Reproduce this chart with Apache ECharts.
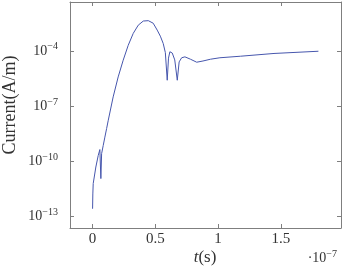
<!DOCTYPE html>
<html>
<head>
<meta charset="utf-8">
<script src="https://cdn.jsdelivr.net/npm/echarts@6/dist/echarts.min.js"></script>
<style>
  html, body { margin: 0; padding: 0; background: #fff; }
  #chart { width: 348px; height: 271px; }
</style>
</head>
<body>
<div id="chart"></div>
<script>
// time in units of 1e-7 s
const timeValues = [0, 0.002, 0.005, 0.026, 0.045, 0.058, 0.066, 0.072, 0.085, 0.098, 0.112, 0.125, 0.164,
  0.204, 0.244, 0.284, 0.324, 0.364, 0.404, 0.444, 0.483, 0.515, 0.54, 0.563, 0.58, 0.595, 0.605, 0.616,
  0.635, 0.655, 0.675, 0.69, 0.71, 0.736, 0.78, 0.83, 0.88, 0.94, 1.015, 1.18, 1.446, 1.8]
// current in A/m
const currentValues = [2.5e-13, 1.6e-12, 5.9e-12, 4.7e-11, 2.0e-10, 4.2e-10, 1.1e-11, 2.5e-10, 7.1e-10, 2.0e-9, 5.9e-9, 1.66e-8, 3.1e-7,
  3.8e-6, 3.1e-5, 2.0e-4, 8.9e-4, 2.5e-3, 4.2e-3, 4.4e-3, 3.2e-3, 1.35e-3, 6.3e-4, 2.5e-4, 8.0e-5, 2.5e-6, 4.0e-5, 8.9e-5,
  7.6e-5, 3.2e-5, 2.5e-6, 2.5e-5, 4.2e-5, 4.7e-5, 3.5e-5, 2.4e-5, 2.8e-5, 3.5e-5, 4.2e-5, 5.1e-5, 7.2e-5, 9.5e-5]
const xTicks = [0, 0.5, 1, 1.5]
const yTickExps = [-13, -10, -7, -4]

const points = timeValues.map((t, i) => [t, Math.log10(currentValues[i])])

const font = 'Liberation Serif'
const gray = '#7f7f7f'
const textColor = '#333'

const supLabel = v => '{b|10}{s|\u2212' + Math.abs(Math.round(v)) + '}'
const labelRich = {
  b: { fontFamily: font, fontSize: 14, color: textColor },
  s: { fontFamily: font, fontSize: 10, color: textColor, padding: [0, 0, 8, 0] }
}

const chart = echarts.init(document.getElementById('chart'))
chart.setOption({
  animation: false,
  grid: { left: 70, right: 7, top: 2, bottom: 43, containLabel: false, outerBoundsMode: 'none' },
  xAxis: [{
    type: 'value', min: -0.18, max: 1.98,
    splitLine: { show: false },
    axisLine: { onZero: false, lineStyle: { color: gray, width: 1 } },
    axisTick: { inside: true, length: 4, customValues: xTicks, lineStyle: { color: gray } },
    axisLabel: { customValues: xTicks, fontFamily: font, fontSize: 15, color: textColor, margin: 4,
      formatter: v => String(v) }
  }, {
    type: 'value', min: -0.18, max: 1.98, position: 'top',
    splitLine: { show: false },
    axisLine: { onZero: false, lineStyle: { color: gray, width: 1 } },
    axisTick: { inside: true, length: 4, customValues: xTicks, lineStyle: { color: gray } },
    axisLabel: { show: false }
  }],
  yAxis: [{
    type: 'value', min: -13.65, max: -1.34,
    splitLine: { show: false },
    axisLine: { show: true, onZero: false, lineStyle: { color: gray, width: 1 } },
    axisTick: { show: true, inside: true, length: 4, customValues: yTickExps, lineStyle: { color: gray } },
    axisLabel: { customValues: yTickExps, formatter: supLabel, rich: labelRich, margin: 12 }
  }, {
    type: 'value', min: -13.65, max: -1.34, position: 'right',
    splitLine: { show: false },
    axisLine: { show: true, onZero: false, lineStyle: { color: gray, width: 1 } },
    axisTick: { show: true, inside: true, length: 4, customValues: yTickExps, lineStyle: { color: gray } },
    axisLabel: { show: false }
  }],
  graphic: [{
    // y axis title
    type: 'text', x: 10, y: 105, rotation: Math.PI / 2,
    style: { text: 'Current(A/m)', fontFamily: font, fontSize: 18, fill: textColor,
      align: 'center', verticalAlign: 'middle' }
  }, {
    // x axis title
    type: 'text', x: 205, y: 258,
    style: {
      text: '{i|t}{n|(s)}', align: 'center', verticalAlign: 'middle',
      rich: {
        i: { fontFamily: font, fontSize: 17, fontStyle: 'italic', fill: textColor },
        n: { fontFamily: font, fontSize: 17, fill: textColor }
      }
    }
  }, {
    type: 'text', x: 337, y: 258,
    style: {
      text: '{b|\u00b710}{s|\u22127}', align: 'right', verticalAlign: 'middle',
      rich: {
        b: { fontFamily: font, fontSize: 14, fill: textColor },
        s: { fontFamily: font, fontSize: 10, fill: textColor, padding: [0, 0, 8, 0] }
      }
    }
  }],
  series: [{
    type: 'line', data: points, showSymbol: false, smooth: false,
    lineStyle: { color: '#4656ad', width: 1 }
  }]
})
</script>
</body>
</html>
